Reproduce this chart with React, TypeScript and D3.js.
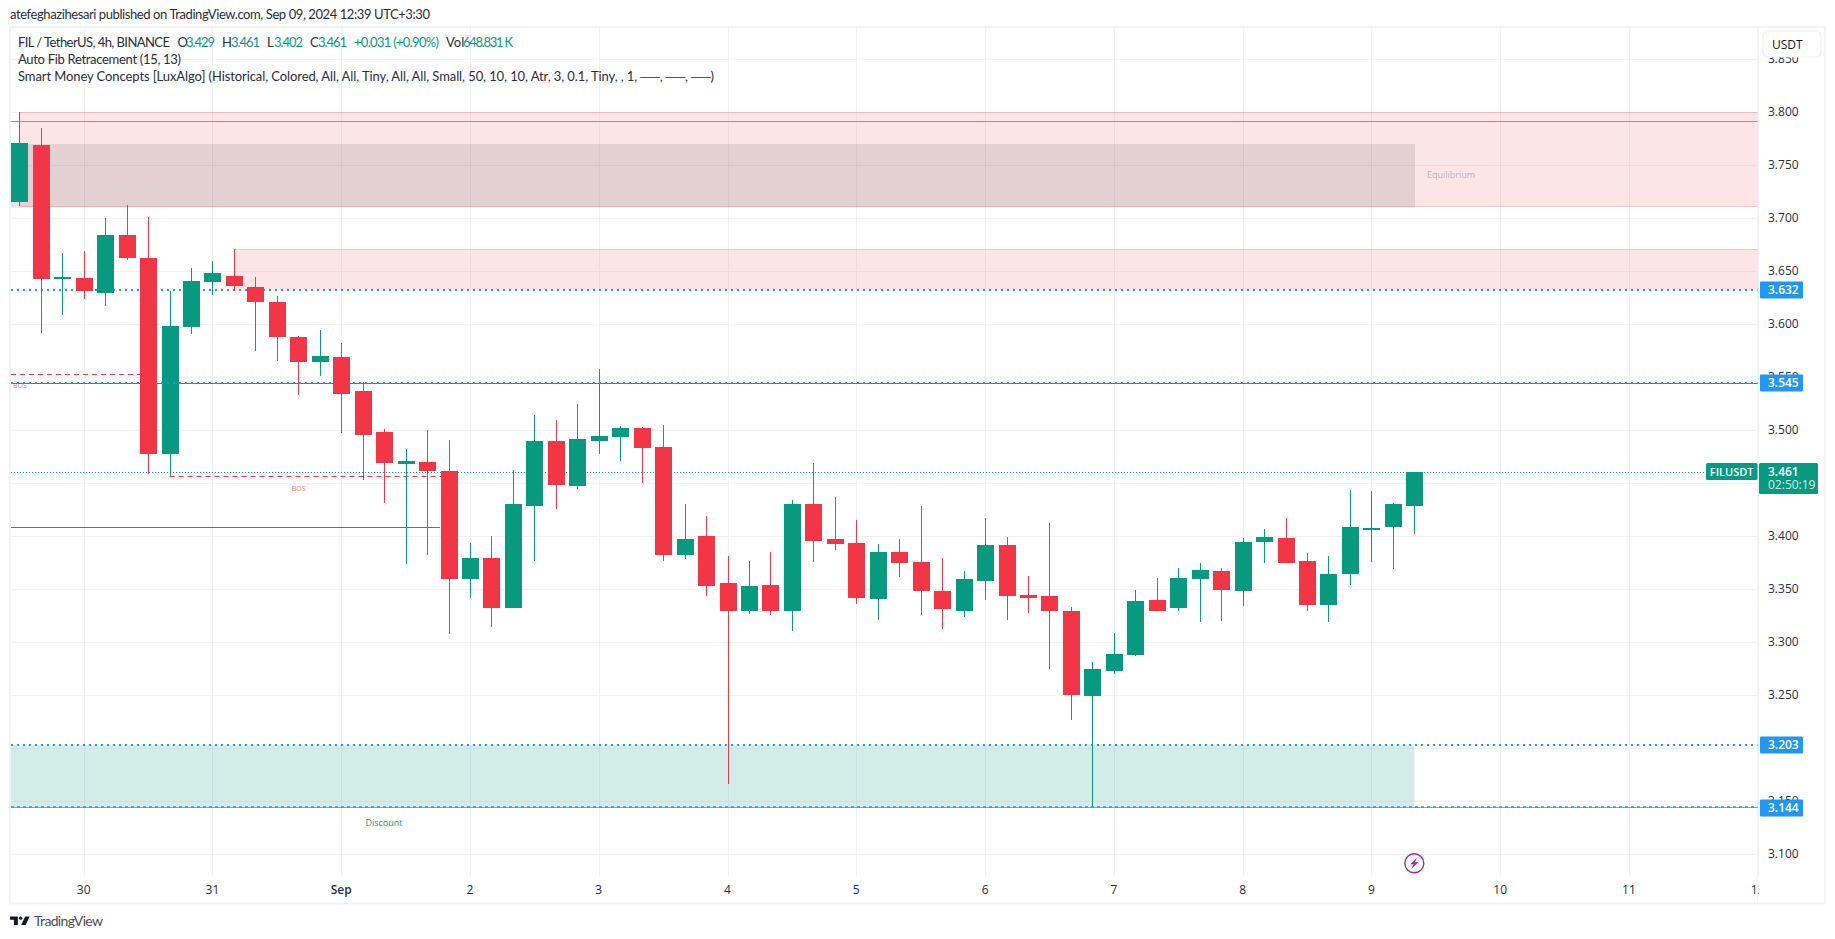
import React from "react";
import * as d3 from "d3";

const opens = [3.715,3.769,3.643,3.644,3.630,3.684,3.663,3.478,3.597,3.640,3.646,3.635,3.621,3.588,3.564,3.569,3.537,3.498,3.468,3.470,3.462,3.360,3.380,3.332,3.429,3.490,3.447,3.490,3.494,3.502,3.484,3.382,3.400,3.356,3.330,3.354,3.330,3.430,3.397,3.394,3.341,3.385,3.376,3.348,3.330,3.358,3.392,3.345,3.344,3.330,3.249,3.273,3.288,3.340,3.332,3.360,3.367,3.348,3.395,3.398,3.377,3.335,3.364,3.406,3.409,3.429];
const highs = [3.800,3.785,3.667,3.669,3.700,3.713,3.701,3.631,3.653,3.660,3.671,3.645,3.627,3.589,3.595,3.582,3.546,3.501,3.482,3.500,3.491,3.394,3.400,3.463,3.514,3.510,3.525,3.558,3.504,3.503,3.505,3.430,3.419,3.381,3.377,3.385,3.434,3.469,3.437,3.415,3.393,3.397,3.429,3.380,3.367,3.417,3.399,3.363,3.413,3.333,3.281,3.309,3.349,3.361,3.370,3.375,3.370,3.398,3.407,3.417,3.384,3.381,3.444,3.443,3.431,3.461];
const lows = [3.712,3.592,3.609,3.624,3.617,3.661,3.459,3.457,3.591,3.628,3.631,3.575,3.565,3.533,3.551,3.497,3.453,3.431,3.374,3.382,3.308,3.342,3.314,3.332,3.377,3.426,3.445,3.478,3.471,3.450,3.377,3.379,3.344,3.166,3.327,3.326,3.311,3.376,3.387,3.336,3.321,3.362,3.326,3.313,3.324,3.340,3.321,3.328,3.275,3.227,3.144,3.270,3.287,3.330,3.330,3.319,3.320,3.334,3.375,3.375,3.330,3.319,3.354,3.376,3.369,3.402];
const closes = [3.771,3.643,3.645,3.631,3.684,3.663,3.478,3.598,3.641,3.648,3.636,3.621,3.588,3.564,3.570,3.534,3.496,3.469,3.471,3.462,3.360,3.380,3.332,3.430,3.490,3.448,3.492,3.495,3.502,3.483,3.382,3.397,3.353,3.330,3.353,3.330,3.430,3.396,3.393,3.342,3.385,3.375,3.348,3.331,3.360,3.392,3.344,3.342,3.330,3.250,3.275,3.289,3.339,3.330,3.361,3.368,3.349,3.395,3.399,3.375,3.335,3.364,3.409,3.408,3.430,3.461];

const priceTicks = [3.85,3.8,3.75,3.7,3.65,3.6,3.55,3.5,3.45,3.4,3.35,3.3,3.25,3.2,3.15,3.1];
const dayLabels = ["30","31","Sep","2","3","4","5","6","7","8","9","10","11","12"];
const dayBars = [3,9,15,21,27,33,39,45,51,57,63,69,75,81];
const levelTags = [3.632,3.545,3.203,3.144];

const UP = "#089981";
const DOWN = "#f23645";
const BLUE = "#2196f3";
const FONT = "'Open Sans','Noto Sans',sans-serif";
const SANS = "Lato,'Open Sans',sans-serif";

const y = d3.scaleLinear().domain([3.5, 3.1]).range([430.3, 854.3]);
const x = d3.scaleLinear().domain([0, 65]).range([19.3, 1414.3]);
const hair = (p: number) => Math.round(y(p)) + 0.5;
const thick = (p: number) => Math.round(y(p));

const L = 11, R = 1757.5, T = 28, B = 876;

const Candle = ({ i }: { i: number }) => {
  const o = opens[i], c = closes[i];
  const top = Math.round(y(Math.max(o, c)));
  const bot = Math.round(y(Math.min(o, c)));
  const cx = Math.round(x(i));
  const col = c >= o ? UP : DOWN;
  const hi = Math.round(y(highs[i]));
  const lo = Math.round(y(lows[i]));
  return (
    <g fill={col}>
      <rect x={cx} y={hi} width={1} height={lo - hi} />
      <rect x={cx - 8} y={top} width={17} height={Math.max(bot - top, 2)} />
    </g>
  );
};

export default function App() {
  const idx = d3.range(opens.length);
  const ups = idx.filter((i) => closes[i] >= opens[i]);
  const downs = idx.filter((i) => closes[i] < opens[i]);
  const lastY = hair(3.461);
  return (
    <svg width={1835} height={939} style={{ position: "fixed", left: 0, top: 0, background: "#fff" }}>
      <defs>
        <clipPath id="timeClip"><rect x={L} y={876} width={1759 - L} height={26} /></clipPath>
      </defs>
      <text x={10} y={19} fontFamily={SANS} fontSize={13} fill="#2a2e39" textLength={420}>atefeghazihesari published on TradingView.com, Sep 09, 2024 12:39 UTC+3:30</text>

      {/* frame */}
      <rect x={10} y={27} width={1815} height={876.5} fill="#fff" stroke="#f0f3fa" strokeWidth={2} />

      {/* grid */}
      {priceTicks.map((p) => (
        <line key={p} x1={L} x2={R} y1={hair(p)} y2={hair(p)} stroke="#f2f2f4" />
      ))}
      {dayBars.map((b) => (
        <line key={b} x1={Math.round(x(b)) + 0.5} x2={Math.round(x(b)) + 0.5} y1={T} y2={B} stroke="#f0f1f4" />
      ))}
      <line x1={R} x2={R} y1={T} y2={903} stroke="#f0f3fa" />

      {/* 3.632 level lies under the zone */}
      <line x1={L} x2={R} y1={thick(3.632)} y2={thick(3.632)} stroke={BLUE} strokeWidth={2} strokeDasharray="2 4" />

      {/* zones */}
      <rect x={x(0)} y={y(3.8)} width={R - x(0)} height={y(3.711) - y(3.8)} fill={DOWN} fillOpacity={0.13} />
      <line x1={x(0)} x2={R} y1={hair(3.8)} y2={hair(3.8)} stroke={DOWN} strokeOpacity={0.22} />
      <line x1={x(0)} x2={R} y1={hair(3.712)} y2={hair(3.712)} stroke={DOWN} strokeOpacity={0.22} />
      <rect x={L} y={y(3.77)} width={1415 - L} height={y(3.71) - y(3.77)} fill="#787b86" fillOpacity={0.2} />
      <rect x={x(10)} y={y(3.671)} width={R - x(10)} height={y(3.632) - y(3.671)} fill={DOWN} fillOpacity={0.13} />
      <line x1={x(10)} x2={R} y1={hair(3.671)} y2={hair(3.671)} stroke={DOWN} strokeOpacity={0.22} />
      <rect x={L} y={y(3.203)} width={x(65) - L} height={y(3.144) - y(3.203)} fill={UP} fillOpacity={0.18} />

      {/* structure lines */}
      <line x1={L} x2={R} y1={hair(3.792)} y2={hair(3.792)} stroke="#66bb6a" strokeWidth={1} />
      <line x1={L} x2={R} y1={383.5} y2={383.5} stroke={DOWN} strokeWidth={1} />
      <line x1={L} x2={440} y1={527.5} y2={527.5} stroke={DOWN} strokeWidth={1} />
      <line x1={L} x2={x(6)} y1={374.5} y2={374.5} stroke={DOWN} strokeDasharray="5 4" />
      <line x1={x(7)} x2={x(20)} y1={476.5} y2={476.5} stroke={DOWN} strokeDasharray="5 4" />
      <line x1={L} x2={1705} y1={lastY} y2={lastY} stroke={UP} strokeDasharray="1 2" />

      {ups.map((i) => <Candle key={i} i={i} />)}

      <line x1={L} x2={R} y1={thick(3.545)} y2={thick(3.545)} stroke={BLUE} strokeWidth={2} strokeDasharray="2 4" />
      <line x1={L} x2={R} y1={thick(3.203)} y2={thick(3.203)} stroke={BLUE} strokeWidth={2} strokeDasharray="2 4" />
      <line x1={L} x2={R} y1={807.5} y2={807.5} stroke="#90a4ae" strokeWidth={1} />
      <line x1={L} x2={R} y1={807} y2={807} stroke={BLUE} strokeWidth={1.5} strokeDasharray="3 3" />

      {downs.map((i) => <Candle key={i} i={i} />)}

      {/* chart labels */}
      <text x={20} y={388} textAnchor="middle" fontFamily={FONT} fontSize={7} fill={DOWN} fillOpacity={0.7}>BOS</text>
      <text x={298.7} y={491} textAnchor="middle" fontFamily={FONT} fontSize={7} fill={DOWN} fillOpacity={0.7}>BOS</text>
      <text x={1451} y={177.7} textAnchor="middle" fontFamily={FONT} fontSize={9} fill="#b2b5be">Equilibrium</text>
      <text x={384} y={825.7} textAnchor="middle" fontFamily={FONT} fontSize={9} fill={UP}>Discount</text>

      {/* lightning marker */}
      <g transform={`translate(${x(65)},863.3)`}>
        <circle r={9.5} fill="#fff" stroke="#9c27b0" strokeWidth={1.4} />
        <path d="M3 -5.5 L-4.2 1 L-0.6 1 L-3 5.5 L4.2 -1 L0.6 -1 Z" fill="#9c27b0" />
      </g>

      {/* legend */}
      <g fontFamily={SANS} fontSize={13} fill="#2a2e39">
        <text x={18} y={46.5} textLength={152}>FIL / TetherUS, 4h, BINANCE</text>
        {[["O", 177.5, "3.429", 186], ["H", 222, "3.461", 231], ["L", 267, "3.402", 274], ["C", 310, "3.461", 318]].map((d) => (
          <g key={d[0] as string}>
            <text x={d[1] as number} y={46.5}>{d[0]}</text>
            <text x={d[3] as number} y={46.5} fill={UP} textLength={29}>{d[2]}</text>
          </g>
        ))}
        <text x={354} y={46.5} fill={UP} textLength={85}>+0.031 (+0.90%)</text>
        <text x={446} y={46.5}>Vol</text>
        <text x={463} y={46.5} fill={UP} textLength={50}>648.831 K</text>
        <text x={18} y={63.5} textLength={163}>Auto Fib Retracement (15, 13)</text>
        <text x={18} y={80.5} textLength={696}>Smart Money Concepts [LuxAlgo] (Historical, Colored, All, All, Tiny, All, All, Small, 50, 10, 10, Atr, 3, 0.1, Tiny, , 1, ──, ──, ──)</text>
      </g>

      {/* price axis */}
      {priceTicks.map((p) => (
        <text key={p} x={1768} y={y(p) + 4} fontFamily={FONT} fontSize={12} fill="#2a2e39">{p.toFixed(3)}</text>
      ))}
      <rect x={1763} y={31} width={58} height={26} rx={5} fill="#fff" stroke="#eef0f5" strokeWidth={1.2} />
      <text x={1772} y={49} fontFamily={FONT} fontSize={12} fill="#131722">USDT</text>

      {levelTags.map((p) => (
        <g key={p}>
          <rect x={1760} y={thick(p) - 8.5} width={43} height={17} fill={BLUE} rx={1} />
          <text x={1768} y={thick(p) + 4} fontFamily={FONT} fontSize={12} fontWeight={600} fill="#fff">{p.toFixed(3)}</text>
        </g>
      ))}
      <rect x={1706} y={463} width={51.5} height={17} fill={UP} rx={1.5} />
      <text x={1731.7} y={475.5} textAnchor="middle" fontFamily={FONT} fontSize={11} fontWeight={600} fill="#fff">FILUSDT</text>
      <rect x={1759} y={463} width={59} height={31} fill={UP} rx={1.5} />
      <text x={1768} y={475.5} fontFamily={FONT} fontSize={12} fontWeight={600} fill="#fff">3.461</text>
      <text x={1768} y={489} fontFamily={FONT} fontSize={12} fill="#fff" fillOpacity={0.85}>02:50:19</text>

      {/* time axis */}
      <g clipPath="url(#timeClip)">
        {dayLabels.map((d, i) => (
          <text key={d} x={x(dayBars[i])} y={894} textAnchor="middle" fontFamily={FONT} fontSize={12} fontWeight={d === "Sep" ? 600 : 400} fill="#2a2e39">{d}</text>
        ))}
      </g>

      {/* brand */}
      <g transform="translate(10,916.5) scale(0.56)" fill="#131722">
        <path d="M14 0H0v6h7v9h7V0Z" />
        <circle cx="19" cy="3" r="3" />
        <path d="M27 0h8l-7 15h-8l7-15Z" />
      </g>
      <text x={34} y={926} fontFamily={SANS} fontSize={14} fill="#4a4e59" textLength={69}>TradingView</text>
    </svg>
  );
}
